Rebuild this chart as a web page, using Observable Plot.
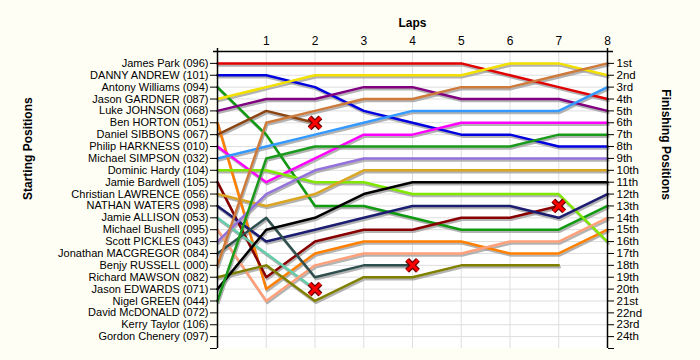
<!DOCTYPE html>
<html><head><meta charset="utf-8">
<script src="https://cdn.jsdelivr.net/npm/d3@7"></script>
<script src="https://cdn.jsdelivr.net/npm/@observablehq/plot@0.6"></script>
<style>html,body{margin:0;padding:0;background:#fffef5;}</style>
</head><body><div id="chart"></div>
<script>
const laps = [0, 1, 2, 3, 4, 5, 6, 7, 8];
const lapTicks = [1, 2, 3, 4, 5, 6, 7, 8];
const drivers = [
  "James Park (096)", "DANNY ANDREW (101)", "Antony Williams (094)", "Jason GARDNER (087)",
  "Luke JOHNSON (068)", "Ben HORTON (051)", "Daniel SIBBONS (067)", "Philip HARKNESS (010)",
  "Michael SIMPSON (032)", "Dominic Hardy (104)", "Jamie Bardwell (105)", "Christian LAWRENCE (056)",
  "NATHAN WATERS (098)", "Jamie ALLISON (053)", "Michael Bushell (095)", "Scott PICKLES (043)",
  "Jonathan MACGREGOR (084)", "Benjy RUSSELL (000)", "Richard MAWSON (082)", "Jason EDWARDS (071)",
  "Nigel GREEN (044)", "David McDONALD (072)", "Kerry Taylor (106)", "Gordon Chenery (097)"
];
const colors = [
  "#e00000", "#0000e0", "#109a10", "#f2e000",
  "#800080", "#ff8000", "#8b4513", "#ff00ff",
  "#3399ff", "#80e800", "#880000", "#daa520",
  "#1c1c70", "#66cdaa", "#ffa07a", "#9370db",
  "#2f4f4f", "#cd7a3a", "#808000", "#000000",
  "#1a9a1a", "#999999", "#999999", "#999999"
];
// position at lap 0..8 for each driver (shorter list = stopped)
const positions = [
  [1, 1, 1, 1, 1, 1, 2, 3, 4],
  [2, 2, 3, 5, 6, 7, 7, 8, 8],
  [3, 7, 13, 13, 14, 15, 15, 15, 13],
  [4, 3, 2, 2, 2, 2, 1, 1, 2],
  [5, 4, 4, 3, 3, 4, 4, 4, 5],
  [6, 20, 17, 16, 16, 16, 17, 17, 15],
  [7, 5, 6],
  [8, 11, 9, 7, 7, 6, 6, 6, 6],
  [9, 8, 7, 6, 5, 5, 5, 5, 3],
  [10, 10, 11, 11, 12, 12, 12, 12, 16],
  [11, 19, 16, 15, 15, 14, 14, 13],
  [12, 13, 12, 10, 10, 10, 10, 10, 10],
  [13, 16, 15, 14, 13, 13, 13, 14, 12],
  [14, 17, 20],
  [15, 21, 18, 17, 17, 17, 16, 16, 14],
  [16, 12, 10, 9, 9, 9, 9, 9, 9],
  [17, 14, 19, 18, 18],
  [18, 6, 5, 4, 4, 3, 3, 2, 1],
  [19, 18, 21, 19, 19, 18, 18, 18],
  [20, 15, 14, 12, 11, 11, 11, 11, 11],
  [21, 9, 8, 8, 8, 8, 8, 7, 7],
  [], [], []
];
const retiredDrivers = ["Daniel SIBBONS (067)", "Jamie ALLISON (053)", "Jonathan MACGREGOR (084)", "Jamie Bardwell (105)"];
const finishLabels = ["1st","2nd","3rd","4th","5th","6th","7th","8th","9th","10th","11th","12th",
  "13th","14th","15th","16th","17th","18th","19th","20th","21st","22nd","23rd","24th"];

const rows = [];
drivers.forEach((name, i) => {
  positions[i].forEach((p, lap) => rows.push({driver: name, lap: laps[lap], pos: p, color: colors[i]}));
});
const retired = retiredDrivers.map(name => {
  const i = drivers.indexOf(name);
  const ps = positions[i];
  return {driver: name, lap: laps[ps.length - 1], pos: ps[ps.length - 1]};
});
const yTicks = d3.range(1, 26);

const chart = Plot.plot({
  width: 700, height: 360,
  marginLeft: 217, marginRight: 93, marginTop: 51, marginBottom: 12,
  style: {fontFamily: "'Liberation Sans', Arial, sans-serif", fontSize: "11px", background: "#fffef5", color: "black"},
  x: {domain: [0, 8]},
  y: {domain: [0, 25], reverse: true},
  color: {type: "identity"},
  marks: [
    Plot.frame({fill: "white", stroke: null}),
    Plot.gridX(lapTicks, {stroke: "#dedede", strokeOpacity: 1}),
    Plot.gridY(d3.range(1, 25), {stroke: "#dedede", strokeOpacity: 1}),
    Plot.line(rows, {x: "lap", y: "pos", z: "driver", stroke: "#a0a0a0", strokeOpacity: 0.8, strokeWidth: 2.5, dx: 1, dy: 2}),
    Plot.line(rows, {x: "lap", y: "pos", z: "driver", stroke: "color", strokeWidth: 2.5}),
    Plot.dot(retired, {x: "lap", y: "pos", symbol: "times", r: 5, stroke: "#6a0000", strokeWidth: 5.5}),
    Plot.dot(retired, {x: "lap", y: "pos", symbol: "times", r: 5, stroke: "#ff0000", strokeWidth: 3}),
    Plot.axisX(lapTicks, {anchor: "top", tickSize: 0, tickPadding: 7, label: null, fontSize: 12}),
    Plot.axisY(yTicks, {anchor: "left", tickSize: 7, tickPadding: 2, label: null, fontSize: 11,
      tickFormat: d => drivers[d - 1] ?? ""}),
    Plot.axisY(yTicks, {anchor: "right", tickSize: 6, tickPadding: 3, label: null, fontSize: 11.5,
      tickFormat: d => finishLabels[d - 1] ?? ""}),
    Plot.ruleX([0, 8], {insetTop: -3, stroke: "black", strokeWidth: 1.5}),
    Plot.ruleY([0], {insetLeft: -4, insetRight: -6, stroke: "black", strokeWidth: 1.5}),
    Plot.text(["Laps"], {frameAnchor: "top", dy: -33, fontWeight: "bold", fontSize: 12}),
    Plot.text(["Starting Positions"], {frameAnchor: "left", dx: -189, rotate: -90, fontWeight: "bold", fontSize: 12}),
    Plot.text(["Finishing Positions"], {frameAnchor: "right", dx: 58, rotate: 90, fontWeight: "bold", fontSize: 12})
  ]
});
document.getElementById("chart").append(chart);
</script>
</body></html>
